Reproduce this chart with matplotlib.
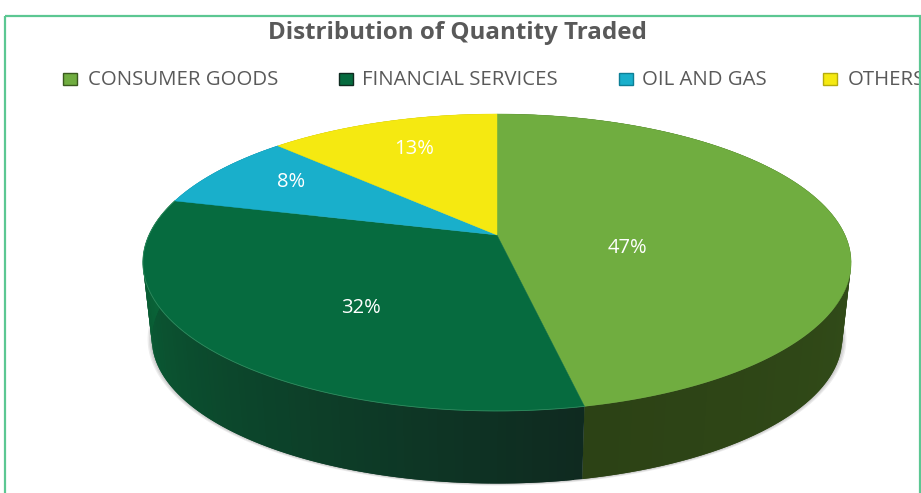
import matplotlib
matplotlib.use("Agg")
import matplotlib.pyplot as plt
import numpy as np
from matplotlib.colors import to_rgb
from matplotlib.patches import Polygon, Rectangle

plt.rcParams["font.family"] = ["Open Sans", "DejaVu Sans"]

categories = ["CONSUMER GOODS", "FINANCIAL SERVICES", "OIL AND GAS", "OTHERS"]
values = [46.7, 32.3, 8.4, 12.6]
top_colors = ["#70ad40", "#066b3f", "#19afcb", "#f5e911"]
side_start = ["#3a5a1e", "#0f2a20", "#0d7f96", "#b5ac0c"]  # going clockwise
side_end = ["#2c4215", "#086a3a", "#0d7f96", "#b5ac0c"]
legend_x = [63, 339, 619, 823]
text_x = [88, 362, 642, 848]
label_pos = [(627, 248), (361, 308), (291, 182), (414, 149)]

# projected disc: apex of the pie is not the centre of the ellipse
APEX = (497, 235)
A = 348.0
B = 143.4
K = 0.185
DEPTH = 77
LOW_SCALE = 0.975


def project(theta, shift=0.0, scale=1.0):
    u = np.sin(theta)
    v = np.cos(theta)
    den = 1 + K * v
    return APEX[0] + scale * A * u / den, APEX[1] - scale * B * v / den + shift


fig = plt.figure(figsize=(9.21, 4.93), dpi=100)
ax = fig.add_axes([0, 0, 1, 1])
ax.set_xlim(0, 921)
ax.set_ylim(493, 0)
ax.axis("off")

frame = Rectangle((5, 16), 915, 490, fill=False, ec="#5cc792", lw=1.6, zorder=10)
ax.add_patch(frame)

ax.text(457, 33, "Distribution of Quantity Traded", ha="center", va="center",
        fontsize=17.4, fontweight="bold", color="#595959")

bounds = np.concatenate([[0], np.cumsum(values)]) / sum(values) * 2 * np.pi

# soft shadow under the wall
ring = np.linspace(0, 2 * np.pi, 300)
for grow in [1.012, 1.008, 1.004]:
    xs, ys = project(ring, shift=DEPTH, scale=LOW_SCALE * grow)
    ax.add_patch(Polygon(list(zip(xs, ys)), fc="black", ec="none", alpha=0.07))

# side wall
for i in range(len(values)):
    ts = np.linspace(bounds[i], bounds[i + 1], 100)
    c0 = np.array(to_rgb(side_start[i]))
    c1 = np.array(to_rgb(side_end[i]))
    for j in range(len(ts) - 1):
        t0, t1 = ts[j], ts[min(j + 2, len(ts) - 1)]
        x0, y0 = project(t0)
        x1, y1 = project(t1)
        x2, y2 = project(t1, DEPTH, LOW_SCALE)
        x3, y3 = project(t0, DEPTH, LOW_SCALE)
        col = c0 + (c1 - c0) * j / (len(ts) - 2)
        ax.add_patch(Polygon([(x0, y0), (x1, y1), (x2, y2), (x3, y3)], fc=col, ec="none"))

# top surface
for i in range(len(values)):
    ts = np.linspace(bounds[i], bounds[i + 1], 200)
    xs, ys = project(ts)
    ax.add_patch(Polygon([APEX] + list(zip(xs, ys)), fc=top_colors[i], ec=top_colors[i], lw=0.3))

# light rim on the front of the dark slice
xs, ys = project(np.linspace(bounds[1], bounds[2], 200))
ax.plot(xs, ys, color="#2f8a5e", lw=0.6)

for i, v in enumerate(values):
    ax.text(label_pos[i][0], label_pos[i][1], f"{v:.0f}%", ha="center", va="center",
            fontsize=14.5, color="white")

# legend
for i, name in enumerate(categories):
    ax.add_patch(Rectangle((legend_x[i], 73), 14, 12, fc=top_colors[i], ec=side_start[i], lw=1))
    t = ax.text(text_x[i], 80, name, ha="left", va="center", fontsize=14.7, color="#595959")
    t.set_clip_path(frame)

fig.savefig("out.png", dpi=100)
